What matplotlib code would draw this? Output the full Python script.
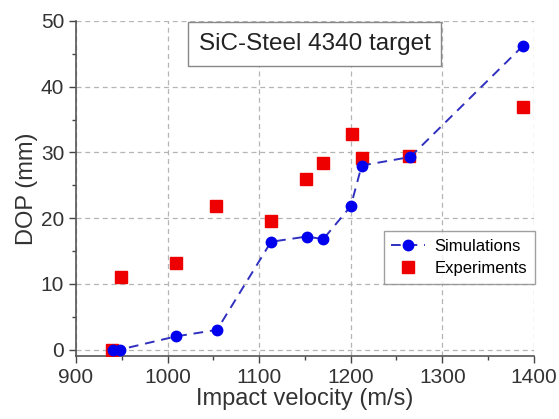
import numpy as np
import matplotlib.pyplot as plt
from matplotlib.ticker import MultipleLocator

plt.rcParams['font.family'] = ['Liberation Sans', 'DejaVu Sans']

# simulation results
sim_v = [940, 948, 1009, 1054, 1113, 1152, 1170, 1200, 1212, 1265, 1388]
sim_dop = [0.0, 0.0, 2.0, 3.0, 16.4, 17.2, 16.8, 21.8, 28.0, 29.3, 46.2]

# experimental results
exp_v = [939, 949, 1009, 1053, 1113, 1151, 1170, 1201, 1212, 1264, 1388]
exp_dop = [0.0, 11.1, 13.1, 21.9, 19.5, 25.9, 28.4, 32.8, 29.2, 29.5, 36.9]

fig = plt.figure(figsize=(5.59, 4.19), dpi=100)
ax = fig.add_axes([0.136, 0.150, 0.819, 0.800])

ax.plot(exp_v, exp_dop, 's', color='#ee0000', markersize=8, label='Experiments', zorder=3)
ax.plot(sim_v, sim_dop, '--o', color='#3030c0', markerfacecolor='#0000ee',
        markeredgecolor='#0000ee', markersize=7.5, linewidth=1.4,
        dashes=(5, 3.5), label='Simulations', zorder=4)

ax.set_xlim(900, 1400)
ax.set_ylim(-1, 50)
ax.xaxis.set_major_locator(MultipleLocator(100))
ax.xaxis.set_minor_locator(MultipleLocator(50))
ax.yaxis.set_major_locator(MultipleLocator(10))
ax.yaxis.set_minor_locator(MultipleLocator(5))
ax.tick_params(which='major', direction='out', length=5, width=1, labelsize=15, colors='#444444')
ax.tick_params(which='minor', direction='out', length=3, width=1, colors='#444444')
ax.tick_params(labelcolor='#333333')

for s in ['top', 'right']:
    ax.spines[s].set_visible(False)
for s in ['left', 'bottom']:
    ax.spines[s].set_color('#555555')
    ax.spines[s].set_linewidth(1.2)

ax.grid(True, which='major', linestyle=(0, (4, 3)), color='#b5b5b5', linewidth=0.9)

ax.set_xlabel('Impact velocity (m/s)', fontsize=17, color='#333333', labelpad=1)
ax.set_ylabel('DOP (mm)', fontsize=17, color='#333333', labelpad=2)

ax.text(0.521, 0.932, 'SiC-Steel 4340 target', transform=ax.transAxes, fontsize=17.5,
        ha='center', va='center', color='#222222',
        bbox=dict(boxstyle='square,pad=0.45', facecolor='white', edgecolor='#888888', linewidth=1))

handles, labels = ax.get_legend_handles_labels()
leg = ax.legend(handles[::-1], labels[::-1], loc='upper left', bbox_to_anchor=(0.672, 0.373),
                fontsize=12, frameon=True, fancybox=False, edgecolor='#888888',
                handlelength=2.0, handletextpad=0.6, borderpad=0.45, labelspacing=0.45,
                borderaxespad=0)
leg.get_frame().set_linewidth(1)

fig.savefig('out.png', dpi=100)
